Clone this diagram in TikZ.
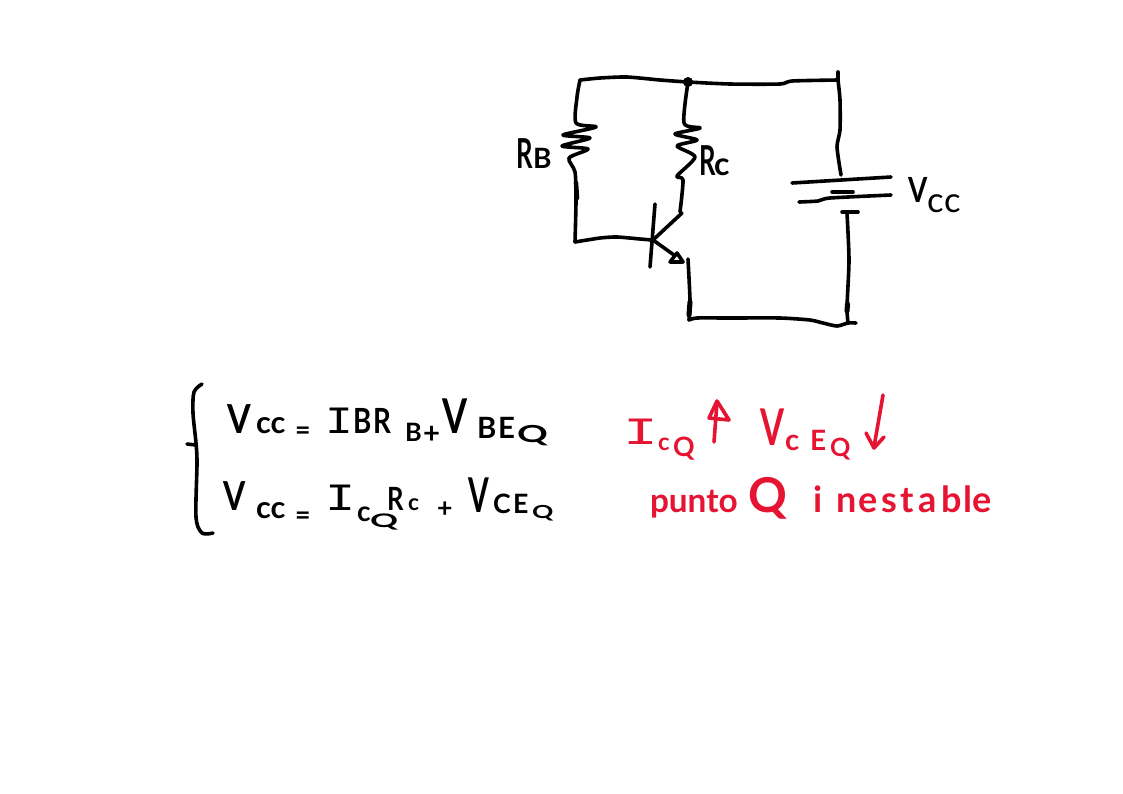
\documentclass[tikz,border=0pt]{standalone}
\usepackage{fontspec}
\usepackage{graphicx}
\setmainfont{Lato}
\newfontfamily\barfont{Liberation Mono}
\newlength{\pxu}
\setlength{\pxu}{0.75pt}
% token: advance (px), raise (px), size (pt), text
\newcommand{\tk}[4]{\makebox[#1\pxu][l]{\raisebox{#2\pxu}{\fontsize{#3}{#3}\selectfont #4}}}
\newcommand{\tb}[4]{\makebox[#1\pxu][l]{\raisebox{#2\pxu}{\fontsize{#3}{#3}\selectfont\bfseries #4}}}
\newcommand{\wideI}[1][1.2]{\scalebox{#1}[1]{\barfont I}}
\newcommand{\sq}[3]{\scalebox{#1}[#2]{#3}}
\definecolor{inkred}{RGB}{229,20,50}
\tikzset{
  x=0.75pt,y=-0.75pt,
  wire/.style={line width=2.7pt,line cap=round,line join=round},
  redwire/.style={wire,draw=inkred},
  hand/.style={inner sep=0pt,outer sep=0pt,anchor=base west,text=black},
  redhand/.style={hand,text=inkred}
}
\begin{document}
\begin{tikzpicture}
\path[use as bounding box,fill=white] (0,0) rectangle (1123,793);
% junctions
\coordinate (top) at (688,82);
\coordinate (tl) at (580,80);
\coordinate (tr) at (838,80);
\coordinate (bl) at (689,320);
\coordinate (br) at (848,323);
\coordinate (base) at (652,240);
\coordinate (bb) at (575,242);
% top wire and outer branch
\draw[wire] plot[smooth,tension=.4] coordinates {(tl) (600,78) (627,77) (660,80) (top) (730,84) (780,84) (792,81) (tr)};
\draw[wire] (838,72) -- (tr);
\draw[wire] plot[smooth,tension=.4] coordinates {(tr) (840,100) (840,130) (837,147) (841,175)};
\draw[wire] (792,183) -- (891,177);
\draw[wire] (832,192) -- (853,192);
\draw[wire] plot[smooth,tension=.4] coordinates {(799,202) (818,201) (830,198) (891,195)};
\draw[wire] (842,212) -- (858,212);
\draw[wire] plot[smooth,tension=.4] coordinates {(847,213) (849,260) (847,307) (br)};
\draw[wire,line width=3.8pt] (847.5,304) -- (847,311);
\draw[wire] plot[smooth,tension=.4] coordinates {(bl) (697,318) (730,318) (780,318) (810,320) (823,323) (837,326) (br) (856,323)};
\fill (top) circle (5);
% RB branch
\draw[wire] plot[smooth,tension=.45] coordinates {(tl) (577,97) (576,123) (596,127) (563,135) (590,138) (562,146) (588,149) (569,158) (575,172) (576,200) (bb)};
\draw[wire,line width=3.4pt] (576,183) -- (577,198);
\draw[wire] plot[smooth,tension=.4] coordinates {(bb) (600,238) (617,237) (640,239) (base)};
% RC branch
\draw[wire] plot[smooth,tension=.45] coordinates {(top) (684,123) (700,128) (675,134) (697,140) (677,146) (695,157) (677,176) (683,180) (680,212)};
\draw[wire] (682,213) -- (653,240);
% transistor
\draw[wire] (655,204) -- (650,267);
\draw[wire] (653,240) -- (674,255);
\draw[wire] (677,253) -- (670,262) -- (683,262) -- cycle;
\draw[wire] plot[smooth,tension=.4] coordinates {(688,259) (690,300) (bl)};
\draw[wire,line width=3.8pt] (690,302) -- (689,315);
% labels
\node[hand] (rb) at (516,168) {\tb{17}{0}{31}{\sq{.62}{1}{R}}\tb{20}{0}{21}{B}};
\node[hand] (rc) at (699,175) {\tb{15}{0}{31}{\sq{.62}{1}{R}}\tb{17}{0}{24}{c}};
\node[hand] (vcc) at (908,202) {\tb{19}{0}{26}{\sq{.8}{1}{V}}\tk{17}{-10}{26}{c}\tk{18}{-10}{26}{c}};
% brace
\draw[wire] plot[smooth,tension=.5] coordinates {(202,384) (194,392) (193,413) (196,443) (197,463) (196,517) (202,533) (213,533)};
\draw[wire] (187,444) -- (196,445);
% equations
\node[hand] (eq1) at (227,433) {\tb{29}{0}{30}{\sq{.85}{1}{V}}\tb{39}{0}{23}{cc}\tb{30}{-6}{20}{=}\tk{28}{0}{29}{\wideI}\tb{20}{0}{26}{\sq{.8}{1}{B}}\tb{32}{0}{26}{\sq{.8}{1}{R}}\tb{18}{-8}{19}{B}\tb{19}{-10}{22}{+}\tb{35}{0}{36}{\sq{.75}{1}{V}}\tb{21}{-5}{22}{B}\tb{19}{-5}{22}{E}\tb{30}{-9}{22}{\sq{1.3}{.8}{Q}}};
\node[hand] (eq2) at (223,510) {\tb{33}{0}{30}{\sq{.8}{1}{V}}\tb{39}{-8}{23}{cc}\tb{30}{-14}{20}{=}\tk{32}{0}{29}{\wideI[1.3]}\tb{13}{-11}{21}{c}\tb{17}{-17}{20}{\sq{1.3}{.7}{Q}}\tb{21}{0}{24}{\sq{.8}{1}{R}}\tb{29}{0}{17}{c}\tb{31}{-7}{20}{+}\tb{25}{-2}{36}{\sq{.62}{1}{V}}\tb{20}{-3}{20}{C}\tb{19}{-3}{20}{E}\tb{21}{-8}{18}{\sq{1.1}{.75}{Q}}};
% red notes
\node[redhand] (icq) at (623,444) {\tk{35}{0}{29}{\wideI[1.5]}\tb{15}{-6}{18}{c}\tb{22}{-12}{20}{Q}};
\draw[redwire] (714,442) -- (717,402);
\draw[redwire] (709,418) -- (717,401) -- (729,420) -- cycle;
\node[redhand] (vceq) at (760,445) {\tb{25}{0}{38}{\sq{.68}{1}{V}}\tb{25}{-5}{22}{c}\tb{20}{-5}{21}{E}\tb{20}{-11}{21}{\sq{.9}{.9}{Q}}};
\draw[redwire] (883,395) -- (874,447);
\draw[redwire] (866,433) -- (874,448) -- (884,437);
\node[redhand] (note) at (650,512) {\tb{98}{0}{25}{punto}\tb{65}{0}{36}{Q}\tb{24}{0}{27}{i}\tb{21}{0}{27}{n}\tb{24}{0}{27}{e}\tb{18}{0}{27}{s}\tb{18}{0}{27}{t}\tb{23}{0}{27}{a}\tb{22}{0}{27}{b}\tb{9}{0}{27}{l}\tb{18}{0}{27}{e}};
\end{tikzpicture}
\end{document}
